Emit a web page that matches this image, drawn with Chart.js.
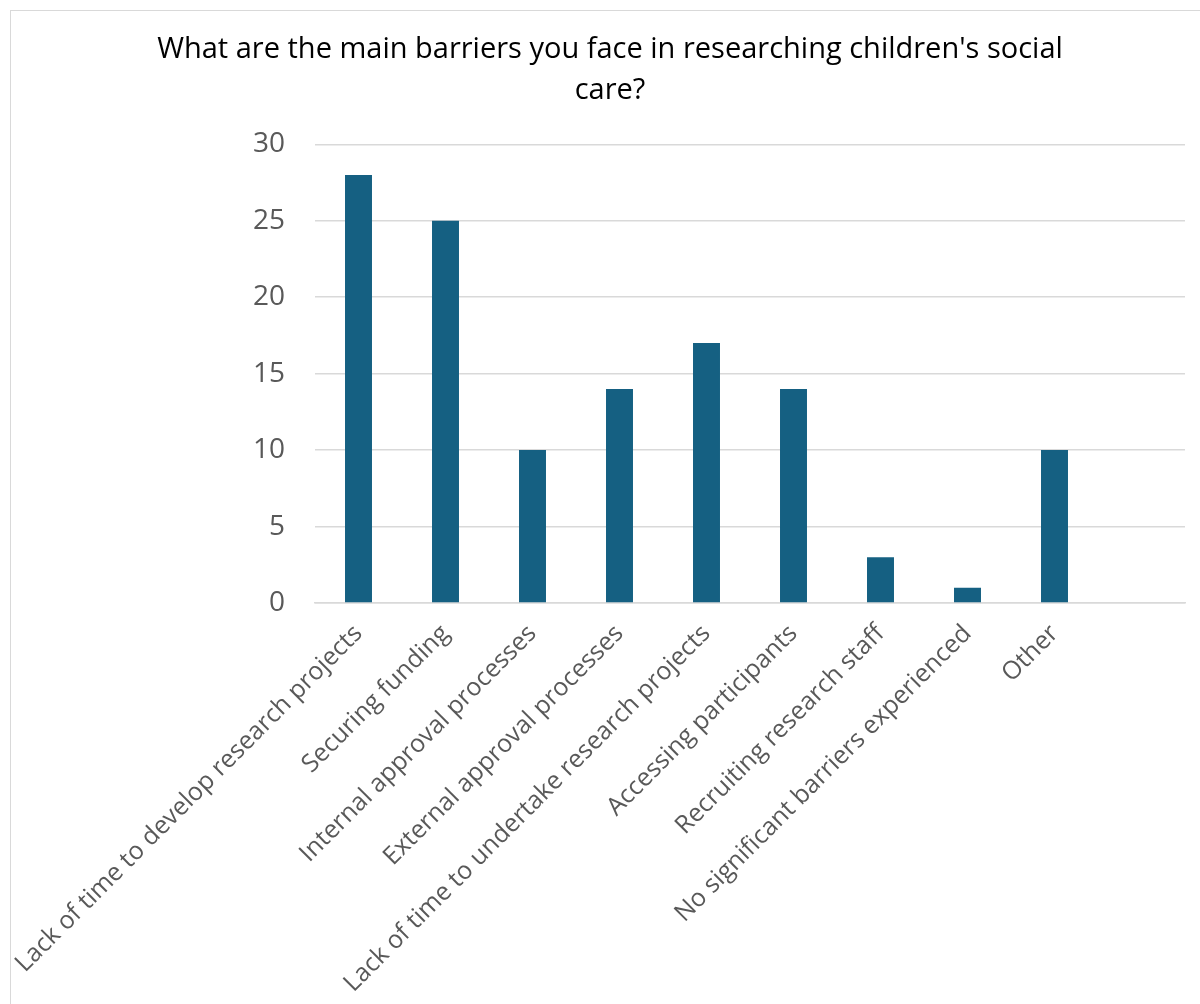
<!DOCTYPE html>
<html>
<head>
<meta charset="utf-8">
<script src="https://cdn.jsdelivr.net/npm/chart.js@4.4.1/dist/chart.umd.min.js"></script>
<style>
  html, body { margin: 0; padding: 0; background: #fff; overflow: hidden; }
  #frame {
    position: absolute; left: 10px; top: 10px; width: 1200px; height: 1000px;
    border: 1px solid #d9d9d9; box-sizing: border-box;
  }
  #wrap { position: absolute; left: 10px; top: 10px; width: 1200px; height: 994px; }
</style>
</head>
<body>
<div id="frame"></div>
<div id="wrap"><canvas id="chart"></canvas></div>
<script>
  // ---------- data ----------
  const titleLines = ["What are the main barriers you face in researching children's social", "care?"];
  const categories = [
    "Lack of time to develop research projects",
    "Securing funding",
    "Internal approval processes",
    "External approval processes",
    "Lack of time to undertake research projects",
    "Accessing participants",
    "Recruiting research staff",
    "No significant barriers experienced",
    "Other",
    ""
  ];
  const counts = [28, 25, 10, 14, 17, 14, 3, 1, 10, null];
  const yTicks = [0, 5, 10, 15, 20, 25, 30];

  const BAR = "#156082";
  const GRID = "#d9d9d9";
  const TEXT = "#595959";
  const FONT = "'Open Sans', sans-serif";

  new Chart(document.getElementById("chart"), {
    type: "bar",
    data: {
      labels: categories,
      datasets: [{
        data: counts,
        backgroundColor: BAR,
        borderWidth: 0,
        barPercentage: 0.62,
        categoryPercentage: 0.5
      }]
    },
    options: {
      responsive: true,
      maintainAspectRatio: false,
      animation: false,
      layout: { padding: 0 },
      plugins: {
        legend: { display: false },
        tooltip: { enabled: false },
        title: {
          display: true,
          text: titleLines,
          color: "#000",
          font: { family: FONT, size: 29, weight: "normal", lineHeight: 1.42 },
          padding: { top: 19, bottom: 33 }
        }
      },
      scales: {
        x: {
          grid: { display: false },
          border: { display: true, color: GRID, width: 1.5 },
          ticks: {
            color: TEXT,
            font: { family: FONT, size: 25 },
            minRotation: 45,
            maxRotation: 45,
            autoSkip: false,
            padding: 8
          },
          afterFit: (s) => {
            s.height = 401;
            s.paddingLeft = 0;
            s.paddingRight = 25;
          }
        },
        y: {
          min: 0,
          max: 30,
          border: { display: false },
          grid: { color: GRID, lineWidth: 1.5, drawTicks: false },
          afterBuildTicks: (s) => { s.ticks = yTicks.map((v) => ({ value: v })); },
          ticks: {
            color: TEXT,
            font: { family: FONT, size: 28 },
            padding: 30
          },
          afterFit: (s) => { s.width = 305; }
        }
      }
    }
  });
</script>
</body>
</html>
